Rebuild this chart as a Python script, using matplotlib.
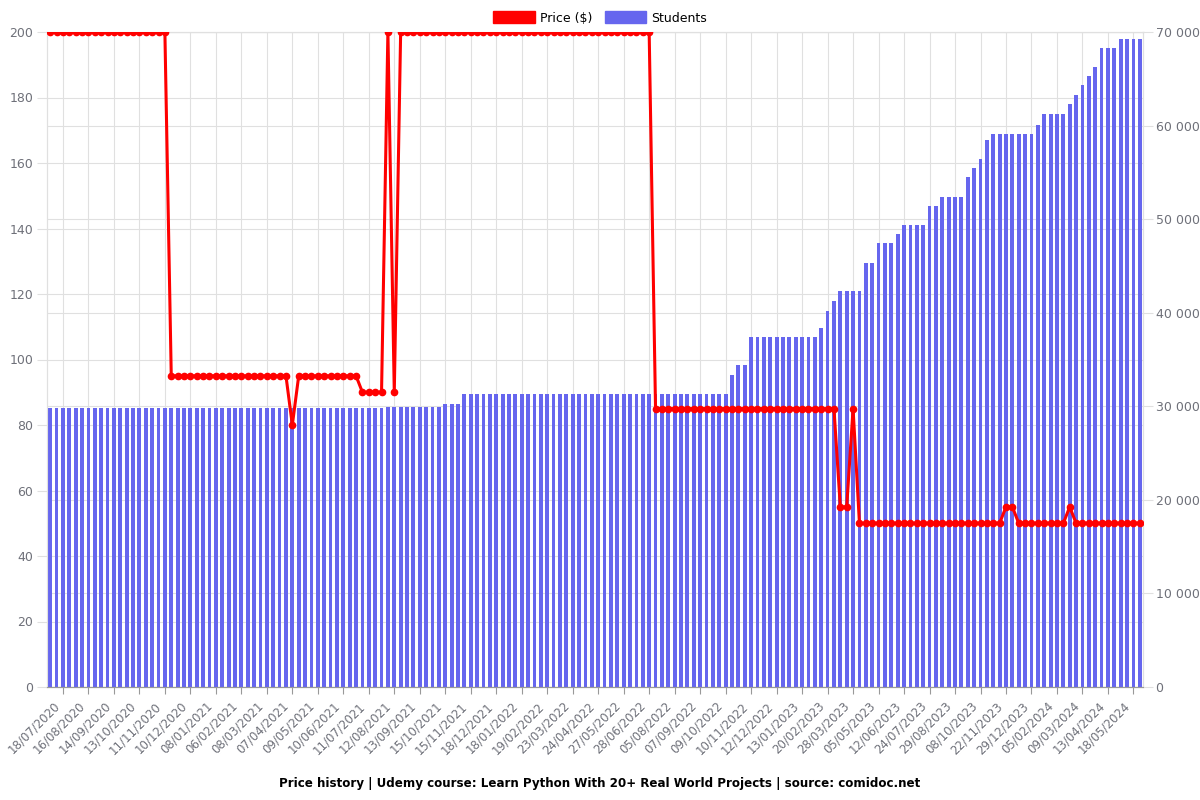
import numpy as np
import matplotlib
matplotlib.use("Agg")
import matplotlib.pyplot as plt
import matplotlib.transforms as mtransforms
from matplotlib.patches import Patch
from matplotlib.ticker import FuncFormatter, MultipleLocator

# tick labels (every 4th sample, starting at sample 2)
tick_dates = [
    "18/07/2020", "16/08/2020", "14/09/2020", "13/10/2020", "11/11/2020", "10/12/2020",
    "08/01/2021", "06/02/2021", "08/03/2021", "07/04/2021", "09/05/2021", "10/06/2021",
    "11/07/2021", "12/08/2021", "13/09/2021", "15/10/2021", "15/11/2021", "18/12/2021",
    "18/01/2022", "19/02/2022", "23/03/2022", "24/04/2022", "27/05/2022", "28/06/2022",
    "05/08/2022", "07/09/2022", "09/10/2022", "10/11/2022", "12/12/2022",
    "13/01/2023", "20/02/2023", "28/03/2023", "05/05/2023", "12/06/2023", "24/07/2023",
    "29/08/2023", "08/10/2023", "22/11/2023", "29/12/2023",
    "05/02/2024", "09/03/2024", "13/04/2024", "18/05/2024",
]

price = [
    200, 200, 200, 200, 200, 200, 200, 200, 200, 200, 200, 200, 200, 200, 200, 200, 200, 200, 200,
    95, 95, 95, 95, 95, 95, 95, 95, 95, 95, 95, 95, 95, 95, 95, 95, 95, 95, 95,
    80,
    95, 95, 95, 95, 95, 95, 95, 95, 95, 95,
    90, 90, 90, 90,
    200,
    90,
    200, 200, 200, 200, 200, 200, 200, 200, 200, 200, 200, 200, 200, 200, 200, 200, 200, 200, 200, 200,
    200, 200, 200, 200, 200, 200, 200, 200, 200, 200, 200, 200, 200, 200, 200, 200, 200, 200, 200, 200,
    85, 85, 85, 85, 85, 85, 85, 85, 85, 85, 85, 85, 85, 85, 85, 85, 85, 85, 85, 85,
    85, 85, 85, 85, 85, 85, 85, 85, 85,
    55, 55,
    85,
    50, 50, 50, 50, 50, 50, 50, 50, 50, 50, 50, 50, 50, 50, 50, 50, 50, 50, 50, 50, 50, 50, 50,
    55, 55,
    50, 50, 50, 50, 50, 50, 50, 50,
    55,
    50, 50, 50, 50, 50, 50, 50, 50, 50, 50, 50,
]

students = [
    29850, 29850, 29850, 29850, 29850, 29850, 29850, 29850, 29850, 29850,
    29850, 29850, 29850, 29850, 29850, 29850, 29850, 29850, 29850, 29850,
    29850, 29850, 29850, 29850, 29850, 29850, 29850, 29850, 29850, 29850,
    29850, 29850, 29850, 29850, 29850, 29850, 29850, 29850, 29850, 29850,
    29850, 29850, 29850, 29850, 29850, 29850, 29850, 29850, 29850, 29850,
    29850, 29850, 29850, 29900, 29900, 29900, 29900, 29900, 29900, 29900,
    29900, 29900,
    30270, 30270, 30270,
    31300, 31300, 31300, 31300, 31300, 31300, 31300, 31300, 31300, 31300,
    31300, 31300, 31300, 31300, 31300, 31300, 31300, 31300, 31300, 31300,
    31300, 31300, 31300, 31300, 31300, 31300, 31300, 31300, 31300, 31300,
    31300, 31300, 31300, 31300, 31300, 31300, 31300, 31300, 31300,
    31350, 31350, 31350,
    33340,
    34380, 34380,
    37400, 37400, 37400, 37400, 37400, 37400, 37400, 37400, 37400, 37400, 37400,
    38400, 40200, 41300,
    42350, 42350, 42350, 42350,
    45300, 45300,
    47400, 47400, 47400,
    48400,
    49370, 49370, 49370, 49370,
    51400, 51400,
    52400, 52400, 52400, 52400,
    54460, 55420, 56420, 58450,
    59050, 59050, 59050, 59050, 59050, 59050, 59050,
    60060,
    61220, 61220, 61220, 61220,
    62280, 63270, 64300, 65300, 66260,
    68250, 68250, 68250,
    69250, 69250, 69250, 69250,
]

x = np.arange(len(students))
tick_pos = x[2::4]

grid_c = "#e0e0e0"
label_c = "#6e7079"
bar_c = "#6666ee"
line_c = "#ff0000"

fig = plt.figure(figsize=(12, 8), dpi=100)
rect = [47 / 1200, 1 - 687 / 800, (1143 - 47) / 1200, (687 - 32) / 800]

ax = fig.add_axes(rect)          # price axis (left), background + grid
ax2 = ax.twinx()                 # students axis (right)
ax3 = fig.add_axes(rect, sharex=ax)  # price line on top
ax3.patch.set_visible(False)

ax.set_xlim(-0.5, len(students) - 0.5)
ax.set_ylim(0, 200)
ax2.set_ylim(0, 70000)
ax3.set_ylim(0, 200)

ax.yaxis.set_major_locator(MultipleLocator(20))
ax2.yaxis.set_major_locator(MultipleLocator(10000))
ax2.yaxis.set_major_formatter(FuncFormatter(lambda v, p: f"{int(v):,}".replace(",", " ")))

ax.grid(True, color=grid_c, linewidth=0.8)
ax2.grid(True, axis="y", color=grid_c, linewidth=0.8)
ax2.set_axisbelow(True)

ax2.bar(x, students, width=0.6, color=bar_c, zorder=2)
ax3.plot(x, price, color=line_c, linewidth=2.2, marker="o", markersize=4.5, zorder=3)

ax.tick_params(axis="x", length=5, color="#999999", pad=4)
ax.tick_params(axis="y", length=7, color=grid_c, labelsize=9, labelcolor=label_c, pad=3)
ax2.tick_params(axis="y", length=7, color=grid_c, labelsize=9, labelcolor=label_c, pad=2)

ax.set_xticks(tick_pos)
ax.set_xticklabels(tick_dates, rotation=45, ha="right", va="top",
                   rotation_mode="anchor", fontsize=8.5, color=label_c)
# nudge the rotated date labels left, like the original
shift = mtransforms.ScaledTranslation(-10 / 100, 0, fig.dpi_scale_trans)
for lbl in ax.get_xticklabels():
    lbl.set_transform(lbl.get_transform() + shift)

for a in (ax, ax2):
    for s in ("left", "right", "top"):
        a.spines[s].set_color(grid_c)
    a.spines["bottom"].set_color("#999999")
ax3.axis("off")

handles = [Patch(facecolor=line_c, edgecolor=line_c, label="Price ($)"),
           Patch(facecolor=bar_c, edgecolor=bar_c, label="Students")]
fig.legend(handles=handles, loc="upper center", bbox_to_anchor=(0.5, 1.0), ncol=2,
           frameon=False, fontsize=9, handlelength=3.3, handleheight=1.1,
           columnspacing=1.0, handletextpad=0.4)

fig.text(0.5, 1 - 783 / 800, "Price history | Udemy course: Learn Python With 20+ Real World Projects | source: comidoc.net",
         ha="center", va="center", fontsize=8.6, fontweight="bold")

fig.savefig("out.png", dpi=100)
